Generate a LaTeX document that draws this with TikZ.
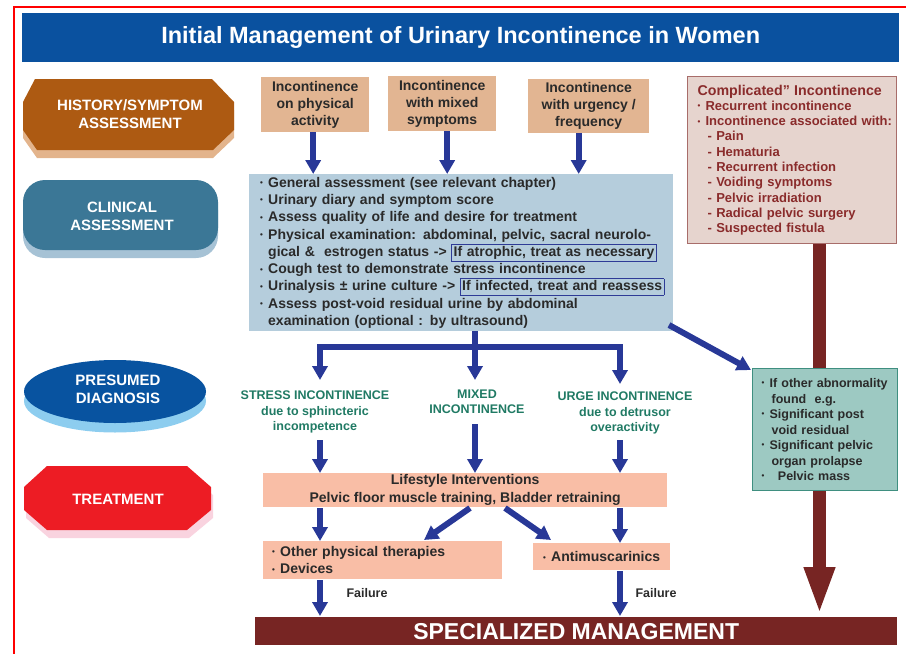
\documentclass[tikz,border=0pt]{standalone}
\usepackage{fontspec}
\setmainfont{Liberation Sans}
\usetikzlibrary{arrows.meta}
\definecolor{titleblue}{HTML}{0A519F}
\definecolor{histbrown}{HTML}{AD5A12}
\definecolor{histshadow}{HTML}{E3B48C}
\definecolor{clinteal}{HTML}{3B7796}
\definecolor{clinshadow}{HTML}{A6C2D5}
\definecolor{diagblue}{HTML}{0853A0}
\definecolor{diagshadow}{HTML}{8DCDEF}
\definecolor{treatred}{HTML}{ED1C24}
\definecolor{treatshadow}{HTML}{F9D3DF}
\definecolor{tanfill}{HTML}{E2B592}
\definecolor{clinfill}{HTML}{B5CDDC}
\definecolor{hlblue}{HTML}{2E3B96}
\definecolor{arrowblue}{HTML}{283897}
\definecolor{compfill}{HTML}{E6D4CE}
\definecolor{compborder}{HTML}{A86D6A}
\definecolor{comptext}{HTML}{8A2B2B}
\definecolor{darkred}{HTML}{772523}
\definecolor{greenfill}{HTML}{9DC9C2}
\definecolor{greenborder}{HTML}{3F8F80}
\definecolor{diaggreen}{HTML}{207A64}
\definecolor{salmon}{HTML}{F9BEA6}
\definecolor{textdark}{HTML}{2A2A2A}
\newcommand\bu{\makebox[8pt][l]{\raisebox{1.6pt}{\fontsize{8}{8}\selectfont •}}}
\newcommand\hlbox[1]{{\setlength\fboxsep{1.5pt}\setlength\fboxrule{0.8pt}\fcolorbox{hlblue}{clinfill}{#1}}}
\begin{document}
\begin{tikzpicture}[x=1pt,y=-1pt,
  lbl/.style={text=white, font=\fontsize{15}{18}\selectfont\bfseries, align=center, inner sep=0pt},
  tanbox/.style={fill=tanfill, anchor=north west, align=center, inner sep=0pt, text=textdark, font=\fontsize{14}{17}\selectfont\bfseries},
  salbox/.style={fill=salmon, anchor=north west, inner sep=0pt, text=textdark, font=\fontsize{14}{17.5}\selectfont\bfseries},
  diag/.style={text=diaggreen, align=center, inner sep=0pt, font=\fontsize{12.5}{15.5}\selectfont\bfseries},
  barrow/.style={draw=arrowblue, line width=6pt, -{Triangle[length=14pt,width=15pt]}},
  bline/.style={draw=arrowblue, line width=6pt},
  failtxt/.style={text=textdark, font=\fontsize{12.5}{14}\selectfont\bfseries, inner sep=0pt},
]
\useasboundingbox (0,0) rectangle (906,654);
% red border
\draw[red, line width=1.5pt] (14,654) -- (14,7) -- (906,7);
% title
\node[fill=titleblue, anchor=north west, minimum width=877pt, minimum height=49pt, inner sep=0pt,
  text=white, font=\fontsize{23.5}{26}\selectfont\bfseries] (title) at (22,13)
  {Initial Management of Urinary Incontinence in Women};
% left column shapes
\fill[histshadow] (35,87) -- (212,87) -- (234,110) -- (234,138) -- (213,158) -- (37,158) -- (23,138) -- (23,110) -- cycle;
\fill[histbrown] (35,79) -- (212,79) -- (234,102) -- (234,130) -- (213,150) -- (37,150) -- (23,130) -- (23,102) -- cycle;
\node[lbl] (hist) at (130,114) {HISTORY/SYMPTOM\\ASSESSMENT};
\fill[clinshadow, rounded corners=22pt] (23,188) rectangle (218,258);
\fill[clinteal, rounded corners=22pt] (23,180) rectangle (218,250);
\node[lbl] (clinlbl) at (122,216) {CLINICAL\\ASSESSMENT};
\fill[diagshadow] (115,401) ellipse [x radius=91pt, y radius=31.5pt];
\fill[diagblue] (115,391.5) ellipse [x radius=91pt, y radius=31.5pt];
\node[lbl] (diaglbl) at (118,389) {PRESUMED\\DIAGNOSIS};
\fill[treatshadow] (49,474) -- (189,474) -- (213,495) -- (213,518) -- (189,538) -- (49,538) -- (26,518) -- (26,495) -- cycle;
\fill[treatred] (47,466) -- (187,466) -- (211,487) -- (211,510) -- (187,530) -- (47,530) -- (24,510) -- (24,487) -- cycle;
\node[lbl] (treatlbl) at (118,499) {TREATMENT};
% top boxes
\node[tanbox, minimum width=108pt, minimum height=55pt] (b1) at (261,77) {Incontinence\\on physical\\activity};
\node[tanbox, minimum width=108pt, minimum height=55pt] (b2) at (388,76) {Incontinence\\with mixed\\symptoms};
\node[tanbox, minimum width=121pt, minimum height=54pt] (b3) at (528,79) {Incontinence\\with urgency /\\frequency};
% clinical box
\node[anchor=north west, fill=clinfill, minimum width=424pt, minimum height=157pt, text width=402pt,
  inner xsep=11pt, inner ysep=0pt, align=left, text=textdark,
  font=\fontsize{14}{17.3}\selectfont\bfseries] (clin) at (249,174) {\lineskiplimit=-20pt\relax
\mbox{\bu General assessment (see relevant chapter)}\\
\mbox{\bu Urinary diary and symptom score}\\
\mbox{\bu Assess quality of life and desire for treatment}\\
\mbox{\bu Physical examination: abdominal, pelvic, sacral neurolo-}\\
\mbox{\hspace*{8pt}gical \&\ \ estrogen status -> \hlbox{If atrophic, treat as necessary}}\\
\mbox{\bu Cough test to demonstrate stress incontinence}\\
\mbox{\bu Urinalysis ± urine culture -> \hlbox{If infected, treat and reassess}}\\
\mbox{\bu Assess post-void residual urine by abdominal}\\
\mbox{\hspace*{8pt}examination (optional : by ultrasound)}};
% arrows top boxes -> clinical
\coordinate (a1) at ([xshift=-2pt]b1.south);
\coordinate (a2) at ([xshift=5pt]b2.south);
\coordinate (a3) at ([xshift=-10pt]b3.south);
\draw[barrow] (a1) -- (a1 |- clin.north);
\draw[barrow] (a2) -- (a2 |- clin.north);
\draw[barrow] (a3) -- (a3 |- clin.north);
% complicated box
\node[anchor=north west, fill=compfill, draw=compborder, line width=1.2pt, minimum width=209pt, minimum height=167pt,
  text width=189pt, inner xsep=10pt, inner ysep=0pt, align=left, text=comptext,
  font=\fontsize{13}{15.3}\selectfont\bfseries] (comp) at (687,76) {%
\mbox{\fontsize{14.2}{15.3}\selectfont Complicated” Incontinence}\\
\mbox{\bu Recurrent incontinence}\\
\mbox{\bu Incontinence associated with:}\\
\hspace*{10pt}- Pain\\
\hspace*{10pt}- Hematuria\\
\hspace*{10pt}- Recurrent infection\\
\hspace*{10pt}- Voiding symptoms\\
\hspace*{10pt}- Pelvic irradiation\\
\hspace*{10pt}- Radical pelvic surgery\\
\hspace*{10pt}- Suspected fistula};
% specialized management bar
\node[anchor=north west, fill=darkred, minimum width=642pt, minimum height=28pt, inner sep=0pt,
  text=white, font=\fontsize{23}{25}\selectfont\bfseries] (spec) at (255,617) {SPECIALIZED MANAGEMENT};
% dark red arrow
\coordinate (dr) at (819.5,300);
\draw[darkred, line width=13pt, -{Triangle[length=48pt,width=28pt]}] (comp.south -| dr) -- ([yshift=2pt]spec.north -| dr);
% green box
\node[anchor=north west, fill=greenfill, draw=greenborder, line width=1.2pt, minimum width=145pt, minimum height=122pt,
  text width=127pt, inner xsep=9pt, inner ysep=0pt, align=left, text=textdark,
  font=\fontsize{12.5}{15.5}\selectfont\bfseries] (green) at (752,368) {%
\mbox{\bu If other abnormality}\\
\hspace*{10pt}found\ \ e.g.\\
\mbox{\bu Significant post}\\
\hspace*{10pt}void residual\\
\mbox{\bu Significant pelvic}\\
\hspace*{10pt}organ prolapse\\
\bu\ \ Pelvic mass};
\coordinate (ga) at (669,325);
\draw[barrow] (ga) -- ([xshift=-1pt,yshift=-2pt]green.north west);
% branching
\coordinate (br) at (475,347);
\coordinate (tS) at (320,380);
\coordinate (tM) at (475,380);
\coordinate (tU) at (620,384);
\draw[bline] (clin.south -| br) -- (br);
\draw[barrow] (br) -| (tS);
\draw[barrow] (br) -| (tU);
\draw[barrow] ([yshift=3pt]br) -- (tM);
% diagnosis labels
\node[diag] (stress) at (315,412) {STRESS INCONTINENCE\\due to sphincteric\\incompetence};
\node[diag] (mixed) at (477,402) {MIXED\\INCONTINENCE};
\node[diag] (urge) at (625,413) {URGE INCONTINENCE\\due to detrusor\\overactivity};
% lifestyle
\node[salbox, minimum width=404pt, minimum height=34pt, align=center,
  font=\fontsize{14}{18}\selectfont\bfseries] (life) at (263,473) {Lifestyle Interventions\\Pelvic floor muscle training, Bladder retraining};
\coordinate (sS) at (320,440);
\coordinate (sM) at (475,424);
\coordinate (sU) at (620,440);
\draw[barrow] (sS) -- (sS |- life.north);
\draw[barrow] (sM) -- (sM |- life.north);
\draw[barrow] (sU) -- (sU |- life.north);
% lower boxes
\node[salbox, minimum width=239pt, minimum height=38pt, text width=221pt, inner xsep=9pt, align=left] (other) at (263,541)
  {\bu Other physical therapies\\\bu Devices};
\node[salbox, minimum width=137pt, minimum height=27pt, align=center] (anti) at (533,543) {\bu Antimuscarinics};
\coordinate (lL) at (320,508);
\coordinate (lR) at (620,508);
\coordinate (dL) at (470,508);
\coordinate (dR) at (505,508);
\coordinate (eL) at (424,540);
\coordinate (eR) at (551,540);
\draw[barrow] (lL) -- (lL |- other.north);
\draw[barrow] (lR) -- (lR |- anti.north);
\draw[barrow] (dL) -- (eL);
\draw[barrow] (dR) -- (eR);
% failure arrows
\coordinate (fL) at (320,580);
\coordinate (fR) at (620,571);
\draw[barrow] (fL) -- ([yshift=1pt]fL |- spec.north);
\draw[barrow] (fR) -- ([yshift=1pt]fR |- spec.north);
\node[failtxt] (failL) at (367,593) {Failure};
\node[failtxt] (failR) at (656,593) {Failure};
\end{tikzpicture}
\end{document}
